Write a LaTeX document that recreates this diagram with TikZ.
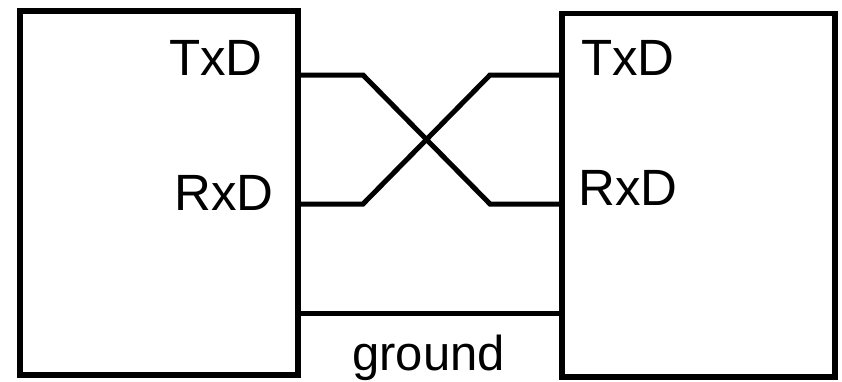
\documentclass[tikz,border=0pt]{standalone}
\usepackage{fontspec}
\setmainfont{Liberation Sans}
\begin{document}
\begin{tikzpicture}[x=1pt,y=-1pt,
  box/.style={draw=black,line width=5.5pt,rectangle,inner sep=0pt},
  wire/.style={draw=black,line width=5pt},
  lbl/.style={anchor=base west,inner sep=0pt,font=\fontsize{51}{60}\selectfont}]
\useasboundingbox (0,0) rectangle (842,381);
\node[box,minimum width=278pt,minimum height=364pt] (lbox) at (159,193) {};
\node[box,minimum width=273pt,minimum height=363.5pt] (rbox) at (698.5,195.25) {};
\node[lbl] (ltx) at (169,75) {TxD};
\node[lbl] (lrx) at (174,210) {RxD};
\node[lbl] (rtx) at (581,75) {TxD};
\node[lbl] (rrx) at (578,205) {RxD};
\node[lbl,font=\fontsize{49}{58}\selectfont] (gnd) at (352,370) {ground};
\coordinate (a1) at (lbox.east |- 0,75);
\coordinate (a2) at (363,75);
\coordinate (a3) at (490,204);
\coordinate (a4) at (rbox.west |- 0,204);
\coordinate (b1) at (lbox.east |- 0,204);
\coordinate (b2) at (363,204);
\coordinate (b3) at (490,75);
\coordinate (b4) at (rbox.west |- 0,75);
\coordinate (g1) at (lbox.east |- 0,313);
\coordinate (g2) at (rbox.west |- 0,313);
\draw[wire] (a1) -- (a2) -- (a3) -- (a4);
\draw[wire] (b1) -- (b2) -- (b3) -- (b4);
\draw[wire] (g1) -- (g2);
\end{tikzpicture}
\end{document}
